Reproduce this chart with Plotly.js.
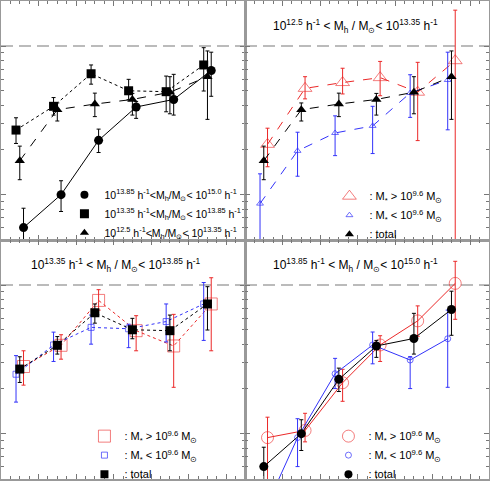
<!DOCTYPE html>
<html>
<head>
<meta charset="utf-8">
<script src="https://cdn.plot.ly/plotly-3.0.1.min.js"></script>
<style>body{margin:0;padding:0;background:#fff}</style>
</head>
<body>
<div id="chart" style="width:490px;height:490px"></div>
<script>
// bin centres (same for every panel)
var xBase = [0.5, 1.5, 2.5, 3.5, 4.5, 5.5];

// panel 1: the three halo mass bins, totals
var highTot = [0.060, 0.100, 0.232, 0.389, 0.437, 0.685];
var highTotHi = [0.081, 0.124, 0.276, 0.424, 0.645, 0.909];
var highTotLo = [0.040, 0.077, 0.192, 0.326, 0.343, 0.459];
var midTot = [0.272, 0.393, 0.651, 0.500, 0.493, 0.746];
var midTotHi = [0.329, 0.450, 0.746, 0.597, 0.628, 0.975];
var midTotLo = [0.221, 0.343, 0.554, 0.435, 0.361, 0.498];
var lowTot = [0.169, 0.373, 0.407, 0.437, 0.489, 0.622];
var lowTotHi = [0.212, 0.414, 0.482, 0.480, 0.622, 0.927];
var lowTotLo = [0.126, 0.313, 0.335, 0.343, 0.350, 0.321];

// panel 2: 10^12.5 - 10^13.35
var lowMassive = [0.218, 0.519, 0.568, 0.613, 0.489, 0.797];
var lowMassiveHi = [0.280, 0.622, 0.709, 0.788, 0.777, 1.744];
var lowMassiveLo = [0.154, 0.441, 0.476, 0.463, 0.231, 0.040];
var lowSmall = [0.087, 0.197, 0.260, 0.290, 0.483, 0.591];
var lowSmallHi = [0.138, 0.263, 0.339, 0.393, 0.641, 0.909];
var lowSmallLo = [0.040, 0.133, 0.183, 0.189, 0.331, 0.273];

// panel 3: 10^13.35 - 10^13.85
var midMassive = [0.283, 0.393, 0.788, 0.493, 0.389, 0.746];
var midMassiveHi = [0.361, 0.463, 0.931, 0.622, 0.635, 1.120];
var midMassiveLo = [0.212, 0.317, 0.678, 0.361, 0.205, 0.361];
var midSmall = [0.251, 0.395, 0.519, 0.508, 0.568, 0.746];
var midSmallHi = [0.335, 0.482, 0.628, 0.545, 0.746, 1.040];
var midSmallLo = [0.163, 0.306, 0.400, 0.379, 0.414, 0.424];

// panel 4: 10^13.85 - 10^15.0
var highMassive = [0.094, 0.105, 0.220, 0.395, 0.574, 1.026];
var highMassiveHi = [0.129, 0.137, 0.271, 0.456, 0.724, 1.445];
var highMassiveLo = [0.040, 0.088, 0.165, 0.306, 0.452, 0.588];
var highSmall = [0.026, 0.094, 0.253, 0.395, 0.313, 0.435];
var highSmallHi = [0.030, 0.126, 0.321, 0.483, 0.330, 0.678];
var highSmallLo = [0.020, 0.060, 0.201, 0.295, 0.201, 0.205];

var RED = 'rgb(235,40,40)';
var REDM = 'rgba(235,40,40,0.6)';
var BLUE = 'rgb(50,50,250)';
var BLUEM = 'rgba(50,50,250,0.7)';

function shift(d) { return xBase.map(function (v) { return v + d; }); }

function series(ax, dx, y, hi, lo, color, dash, sym, size, mcolor, open) {
    return {
        x: shift(dx), y: y, xaxis: 'x' + ax, yaxis: 'y' + ax,
        type: 'scatter', mode: 'lines+markers', showlegend: false,
        line: { color: color, width: 1, dash: dash },
        marker: open ? { symbol: sym + '-open', size: size, color: mcolor, line: { width: 1, color: mcolor } }
                     : { symbol: sym, size: size, color: mcolor },
        error_y: {
            type: 'data', symmetric: false,
            array: hi.map(function (v, i) { return v - y[i]; }),
            arrayminus: lo.map(function (v, i) { return y[i] - v; }),
            color: color, thickness: 1, width: 2
        }
    };
}

function key(ax, leg, name, sym, size, mcolor, open) {
    return {
        x: [null], y: [null], xaxis: 'x' + ax, yaxis: 'y' + ax,
        type: 'scatter', mode: 'markers', name: name, legend: leg,
        marker: open ? { symbol: sym + '-open', size: size, color: mcolor, line: { width: 1, color: mcolor } }
                     : { symbol: sym, size: size, color: mcolor }
    };
}

var hh = ' h<sup>-1</sup>';
var bigTxt = ': M<sub>*</sub> > 10<sup>9.6</sup> M<sub>⊙</sub>';
var smallTxt = ': M<sub>*</sub> < 10<sup>9.6</sup> M<sub>⊙</sub>';

var data = [
    // panel 1
    series('', 0.1, highTot, highTotHi, highTotLo, 'black', 'solid', 'circle', 9, 'black', false),
    series('', -0.1, midTot, midTotHi, midTotLo, 'black', 'dot', 'square', 9, 'black', false),
    series('', 0, lowTot, lowTotHi, lowTotLo, 'black', 'dash', 'triangle-up', 9, 'black', false),
    key('', 'legend', '10<sup>13.85</sup>' + hh + '<M<sub>h</sub>/M<sub>⊙</sub>< 10<sup>15.0</sup>' + hh, 'circle', 8, 'black', false),
    key('', 'legend', '10<sup>13.35</sup>' + hh + '<M<sub>h</sub>/M<sub>⊙</sub>< 10<sup>13.85</sup>' + hh, 'square', 9, 'black', false),
    key('', 'legend', '10<sup>12.5</sup>' + hh + '<M<sub>h</sub>/M<sub>⊙</sub>< 10<sup>13.35</sup>' + hh, 'triangle-up', 8, 'black', false),
    // panel 2
    series('2', 0.1, lowMassive, lowMassiveHi, lowMassiveLo, RED, 'dash', 'triangle-up', 12, REDM, true),
    series('2', -0.1, lowSmall, lowSmallHi, lowSmallLo, BLUE, 'dash', 'triangle-up', 6, BLUEM, true),
    series('2', 0, lowTot, lowTotHi, lowTotLo, 'black', 'dash', 'triangle-up', 9, 'black', false),
    key('2', 'legend2', bigTxt, 'triangle-up', 12, REDM, true),
    key('2', 'legend2', smallTxt, 'triangle-up', 6, BLUEM, true),
    key('2', 'legend2', ': total', 'triangle-up', 8, 'black', false),
    // panel 3
    series('3', 0.1, midMassive, midMassiveHi, midMassiveLo, RED, 'dot', 'square', 12, REDM, true),
    series('3', -0.1, midSmall, midSmallHi, midSmallLo, BLUE, 'dot', 'square', 6, BLUEM, true),
    series('3', 0, midTot, midTotHi, midTotLo, 'black', 'dot', 'square', 9, 'black', false),
    key('3', 'legend3', bigTxt, 'square', 12, REDM, true),
    key('3', 'legend3', smallTxt, 'square', 6, BLUEM, true),
    key('3', 'legend3', ': total', 'square', 8, 'black', false),
    // panel 4
    series('4', 0.1, highMassive, highMassiveHi, highMassiveLo, RED, 'solid', 'circle', 12, REDM, true),
    series('4', -0.1, highSmall, highSmallHi, highSmallLo, BLUE, 'solid', 'circle', 6, BLUEM, true),
    series('4', 0, highTot, highTotHi, highTotLo, 'black', 'solid', 'circle', 9, 'black', false),
    key('4', 'legend4', bigTxt, 'circle', 12, REDM, true),
    key('4', 'legend4', smallTxt, 'circle', 6, BLUEM, true),
    key('4', 'legend4', ': total', 'circle', 8, 'black', false)
];

function xa(dom, anchor) {
    return {
        domain: dom, anchor: anchor, range: [0, 6.5], dtick: 1,
        showticklabels: false, showgrid: false, zeroline: false,
        showline: true, linecolor: '#999', linewidth: 1.5, mirror: 'ticks',
        ticks: 'inside', ticklen: 5, tickcolor: '#777', tickwidth: 1,
        minor: { dtick: 0.25, ticks: 'inside', ticklen: 3, tickcolor: '#777', showgrid: false }
    };
}
function ya(dom, anchor) {
    return {
        domain: dom, anchor: anchor, type: 'log', range: [Math.log10(0.0495), Math.log10(2.01)], dtick: 1,
        showticklabels: false, showgrid: false, zeroline: false,
        showline: true, linecolor: '#999', linewidth: 1.5, mirror: 'ticks',
        ticks: 'inside', ticklen: 5, tickcolor: '#777', tickwidth: 1,
        minor: { dtick: 'D1', ticks: 'inside', ticklen: 3, tickcolor: '#777', showgrid: false }
    };
}

function unity(ax) {
    return {
        type: 'line', xref: 'x' + ax + ' domain', x0: 0, x1: 1, yref: 'y' + ax, y0: 1, y1: 1,
        line: { color: '#bbb', width: 2, dash: '12px,6px' }, layer: 'below'
    };
}

function title(x, y, lo, hi) {
    return {
        xref: 'paper', yref: 'paper', x: x, y: y, xanchor: 'center', yanchor: 'middle', showarrow: false,
        text: '10<sup>' + lo + '</sup> h<sup>-1</sup> < M<sub>h</sub> / M<sub>⊙</sub>< 10<sup>' + hi + '</sup> h<sup>-1</sup>',
        font: { size: 12, color: 'black' }
    };
}

function leg(x, y, size) {
    return {
        x: x, y: y, xanchor: 'left', yanchor: 'top', bgcolor: 'rgba(0,0,0,0)',
        font: { size: size, color: 'black' }, tracegroupgap: 0, itemwidth: 30
    };
}

var layout = {
    width: 490, height: 490,
    margin: { l: 1, r: 1, t: 1, b: 1 },
    paper_bgcolor: 'white', plot_bgcolor: 'white',
    font: { family: 'Liberation Sans, Arial, sans-serif', color: 'black' },
    showlegend: true,
    xaxis: xa([0, 0.5], 'y'), yaxis: ya([0.5, 1], 'x'),
    xaxis2: xa([0.5, 1], 'y2'), yaxis2: ya([0.5, 1], 'x2'),
    xaxis3: xa([0, 0.5], 'y3'), yaxis3: ya([0, 0.5], 'x3'),
    xaxis4: xa([0.5, 1], 'y4'), yaxis4: ya([0, 0.5], 'x4'),
    shapes: [unity(''), unity('2'), unity('3'), unity('4')],
    annotations: [
        title(0.727, 0.948, '12.5', '13.35'),
        title(0.235, 0.448, '13.35', '13.85'),
        title(0.727, 0.448, '13.85', '15.0')
    ],
    legend: leg(0.13, 0.625, 10.5),
    legend2: leg(0.673, 0.622, 11),
    legend3: leg(0.171, 0.12, 11),
    legend4: leg(0.671, 0.12, 11)
};

Plotly.newPlot('chart', data, layout, { displayModeBar: false, staticPlot: true });
</script>
</body>
</html>
